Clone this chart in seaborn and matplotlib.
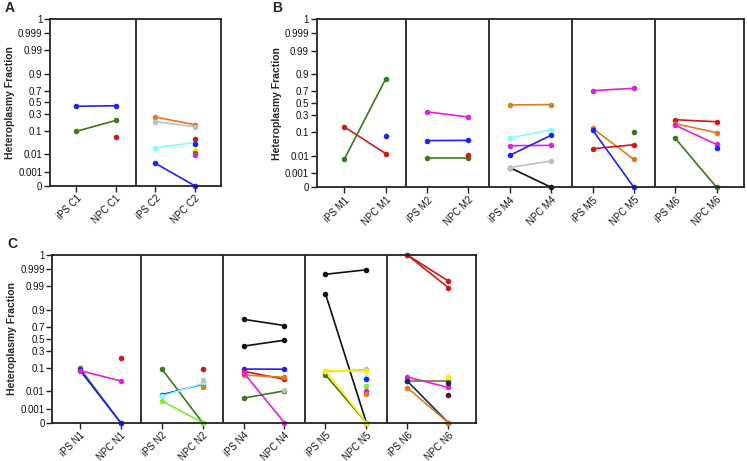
import math
import numpy as np
import pandas as pd
import matplotlib
matplotlib.use("Agg")
import matplotlib.pyplot as plt
import seaborn as sns

nan = np.nan

# colour names used in the figure
palette = {
    "blue": "#1f1fff", "green": "#3a7a1a", "red": "#cc1a1a", "orange": "#e07a1f",
    "gray": "#c0c0c0", "cyan": "#80ffff", "magenta": "#e020e0", "yellow": "#ffee00",
    "lime": "#80ee30", "black": "#111111", "navy": "#1a2a5a", "brown": "#8b6a40",
    "maroon": "#5a1030",
}

# ---- panel A ----
C1_ips = [0.43, 0.098, nan]
C1_npc = [0.44, 0.21, 0.063]
C1_col = ["blue", "green", "red"]

C2_ips = [0.257, 0.194, 0.0216, 0.0033, nan, nan, nan, nan, nan]
C2_npc = [0.159, 0.139, 0.036, 0.0, 0.052, 0.0325, 0.0168, 0.0116, 0.009]
C2_col = ["orange", "gray", "cyan", "blue", "red", "blue", "yellow", "green", "magenta"]

# ---- panel B ----
M1_ips = [0.146, 0.0068, nan]
M1_npc = [0.0128, 0.86, 0.073]
M1_col = ["red", "green", "blue"]

M2_ips = [0.35, 0.049, 0.0074, nan]
M2_npc = [0.27, 0.05, 0.0074, 0.011]
M2_col = ["magenta", "blue", "green", "red"]

M4_ips = [0.468, 0.062, 0.030, 0.0106, 0.0022, 0.0022]
M4_npc = [0.475, 0.118, 0.031, 0.078, 0.0, 0.0053]
M4_col = ["orange", "cyan", "magenta", "blue", "black", "gray"]

M5_ips = [0.71, 0.133, 0.118, 0.022, nan]
M5_npc = [0.744, 0.0065, 0.0, 0.033, 0.099]
M5_col = ["magenta", "orange", "blue", "red", "green"]

M6_ips = [0.232, 0.182, 0.164, 0.060, nan]
M6_npc = [0.206, 0.096, 0.034, 0.0, 0.024]
M6_col = ["red", "orange", "magenta", "green", "blue"]

# ---- panel C ----
N1_ips = [0.098, 0.083, 0.08, nan]
N1_npc = [0.0, 0.0, 0.031, 0.193]
N1_col = ["green", "blue", "magenta", "red"]

N2_ips = [0.093, 0.0065, 0.0055, 0.003, nan, nan, nan]
N2_npc = [0.0, 0.022, 0.024, 0.0, 0.091, 0.035, 0.0165]
N2_col = ["green", "blue", "cyan", "lime", "red", "gray", "orange"]

N4_ips = [0.807, 0.373, 0.090, 0.075, 0.0546, 0.067, 0.0043, nan]
N4_npc = [0.722, 0.476, 0.089, 0.0365, 0.044, 0.0, 0.0105, 0.011]
N4_col = ["black", "black", "blue", "red", "orange", "magenta", "green", "gray"]

N5_ips = [0.9979, 0.9776, 0.072, 0.0555, 0.080, 0.080, nan, nan, nan, nan, nan]
N5_npc = [0.9989, 0.0, 0.087, 0.0, 0.0, 0.075, 0.045, 0.036, 0.018, 0.0103, 0.0071]
N5_col = ["black", "black", "gray", "green", "yellow", "yellow",
          "cyan", "blue", "lime", "magenta", "orange"]

N6_ips = [1.0, 1.0, 0.045, 0.0305, 0.0305, 0.015, nan, nan, nan]
N6_npc = [0.9949, 0.9885, 0.0156, 0.0305, 0.0, 0.0, 0.044, 0.026, 0.0063]
N6_col = ["red", "red", "magenta", "brown", "navy", "orange", "yellow", "navy", "maroon"]

ytick_vals = [0, 0.001, 0.01, 0.1, 0.3, 0.5, 0.7, 0.9, 0.99, 0.999, 1]
ytick_labels = ["0", "0.001", "0.01", "0.1", "0.3", "0.5", "0.7", "0.9", "0.99", "0.999", "1"]


# probability (probit) axis like the Prism one
_erf = np.vectorize(math.erf, otypes=[float])

def ncdf(z):
    z = np.asarray(z, dtype=float)
    return 0.5 * (1 + _erf(z / math.sqrt(2)))

def probit(p):
    p = np.clip(np.asarray(p, dtype=float), 1e-4, 1 - 1e-4)
    lo = np.full(p.shape, -5.0)
    hi = np.full(p.shape, 5.0)
    for _ in range(40):
        mid = (lo + hi) / 2
        less = ncdf(mid) < p
        lo = np.where(less, mid, lo)
        hi = np.where(less, hi, mid)
    return (lo + hi) / 2


def draw_panel(ax, groups, letter):
    rows = []
    labels = []
    for g, (name, ips, npc, cols) in enumerate(groups):
        labels += ["iPS " + name, "NPC " + name]
        for i, c in enumerate(cols):
            sid = f"{name}_{i}"
            rows.append((2 * g, ips[i], sid, c))
            rows.append((2 * g + 1, npc[i], sid, c))
    df = pd.DataFrame(rows, columns=["x", "y", "sid", "col"]).dropna()
    pal = dict(zip(df["sid"], df["col"].map(palette)))
    sns.lineplot(data=df, x="x", y="y", hue="sid", palette=pal, marker="o",
                 markersize=4, markeredgewidth=0, linewidth=1.2,
                 estimator=None, sort=False, legend=False, ax=ax, clip_on=False)

    n = len(labels)
    ax.set_yscale("function", functions=(probit, ncdf))
    ax.set_ylim(0, 1)
    ax.set_xlim(-0.67, n - 1 + 0.67)
    ax.set_yticks(ytick_vals)
    ax.set_yticklabels(ytick_labels)
    ax.minorticks_off()
    ax.set_xticks(range(n))
    ax.set_xticklabels(labels, rotation=45, ha="right", rotation_mode="anchor")
    for k in range(1, len(groups)):
        ax.axvline(2 * k - 0.5, color="#222222", lw=1.3)
    for s in ax.spines.values():
        s.set_color("#222222")
        s.set_linewidth(1.3)
    ax.tick_params(axis="both", length=4, width=1, color="#222222",
                   labelsize=7, pad=1.5, labelcolor="#111111")
    ax.set_xlabel("")
    ax.set_ylabel("Heteroplasmy Fraction", fontsize=7.5, fontweight="bold", labelpad=2)
    pos = ax.get_position()
    ax.figure.text(pos.x0 - 0.06, pos.y1 + 0.008, letter, fontsize=10,
                   fontweight="bold", va="bottom", ha="left")


sns.set_style("ticks")
plt.rcParams["font.family"] = ["Liberation Sans", "DejaVu Sans"]

fig = plt.figure(figsize=(7.47, 4.61), dpi=100)
axA = fig.add_axes([0.0669, 0.5972, 0.2290, 0.3616])
axB = fig.add_axes([0.4240, 0.5937, 0.5724, 0.3651])
axC = fig.add_axes([0.0700, 0.0831, 0.5668, 0.3638])

draw_panel(axA, [("C1", C1_ips, C1_npc, C1_col), ("C2", C2_ips, C2_npc, C2_col)], "A")
draw_panel(axB, [("M1", M1_ips, M1_npc, M1_col), ("M2", M2_ips, M2_npc, M2_col),
                 ("M4", M4_ips, M4_npc, M4_col), ("M5", M5_ips, M5_npc, M5_col),
                 ("M6", M6_ips, M6_npc, M6_col)], "B")
draw_panel(axC, [("N1", N1_ips, N1_npc, N1_col), ("N2", N2_ips, N2_npc, N2_col),
                 ("N4", N4_ips, N4_npc, N4_col), ("N5", N5_ips, N5_npc, N5_col),
                 ("N6", N6_ips, N6_npc, N6_col)], "C")

fig.savefig("out.png", dpi=100)
